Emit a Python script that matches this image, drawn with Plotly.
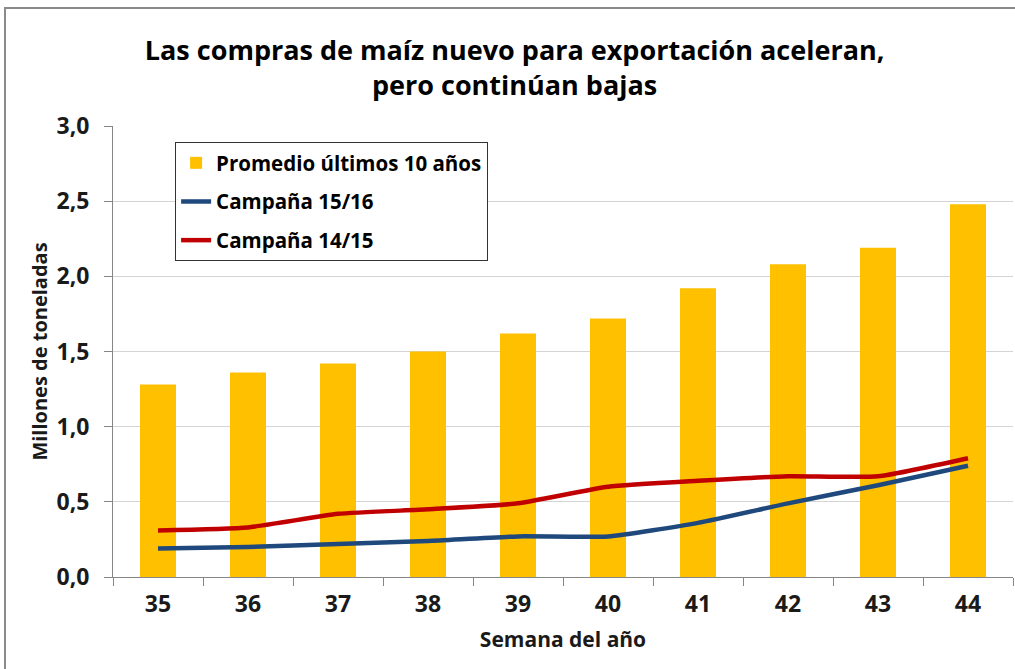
import plotly.graph_objects as go

weeks = ["35", "36", "37", "38", "39", "40", "41", "42", "43", "44"]
promedio = [1.28, 1.36, 1.42, 1.50, 1.62, 1.72, 1.92, 2.08, 2.19, 2.48]
camp_15_16 = [0.19, 0.20, 0.22, 0.24, 0.27, 0.27, 0.36, 0.49, 0.61, 0.74]
camp_14_15 = [0.31, 0.33, 0.42, 0.45, 0.49, 0.60, 0.64, 0.67, 0.67, 0.79]
y_ticks = [0, 0.5, 1.0, 1.5, 2.0, 2.5, 3.0]
y_labels = ["0,0", "0,5", "1,0", "1,5", "2,0", "2,5", "3,0"]

FONT = "Open Sans"
TXT = "#1a1a1a"
fig = go.Figure()
fig.add_trace(go.Bar(x=weeks, y=promedio, name="Promedio últimos 10 años", legendgroup="a",
                     marker=dict(color="#FFC000", line=dict(width=0))))
fig.add_trace(go.Scatter(x=weeks, y=camp_15_16, name="Campaña 15/16", mode="lines", legendgroup="b",
                         line=dict(color="#1F497D", width=4.5, shape="spline", smoothing=0.5)))
fig.add_trace(go.Scatter(x=weeks, y=camp_14_15, name="Campaña 14/15", mode="lines", legendgroup="c",
                         line=dict(color="#C00000", width=4.5, shape="spline", smoothing=0.5)))

fig.update_layout(
    width=1015, height=669,
    margin=dict(l=113, r=2, t=126, b=92, autoexpand=False),
    paper_bgcolor="white", plot_bgcolor="white",
    bargap=0.6,
    font=dict(family=FONT, color=TXT),
    title=dict(text="Las compras de maíz nuevo para exportación aceleran,<br>pero continúan bajas",
               x=0.507, xref="container", xanchor="center", y=0.91, yref="container", yanchor="middle",
               font=dict(family=FONT, size=27, weight="bold", color="#000")),
    legend=dict(x=0.069, y=0.9645, xanchor="left", yanchor="top",
                bgcolor="white", bordercolor="#333", borderwidth=1,
                font=dict(family=FONT, size=20.5, weight="bold", color="#000"),
                tracegroupgap=9, itemwidth=30),
    showlegend=True,
)
fig.update_xaxes(type="category", showline=True, linecolor="#868686", linewidth=1,
                 ticks="outside", tickson="boundaries", ticklen=8, tickcolor="#868686",
                 showgrid=False, automargin=False, ticklabelstandoff=6,
                 tickfont=dict(family=FONT, size=23, weight="bold", color=TXT),
                 title=dict(text="Semana del año", standoff=14,
                            font=dict(family=FONT, size=21, weight="bold", color=TXT)))
fig.update_yaxes(range=[0, 3.0], tickvals=y_ticks, ticktext=y_labels,
                 showline=True, linecolor="#868686", linewidth=1,
                 ticks="outside", ticklen=8, tickcolor="#868686",
                 showgrid=True, gridcolor="#D4D4D4", gridwidth=1, zeroline=False,
                 automargin=False, ticklabelstandoff=10,
                 tickfont=dict(family=FONT, size=23, weight="bold", color=TXT),
                 title=dict(text="Millones de toneladas", standoff=3,
                            font=dict(family=FONT, size=20, weight="bold", color=TXT)))

fig.add_shape(type="rect", xref="paper", yref="paper",
              x0=-0.1200, x1=1.2, y0=-0.5, y1=1.2616,
              line=dict(color="#8a8a8a", width=2), fillcolor="rgba(0,0,0,0)", layer="below")

fig.write_html("out.html", config={"displayModeBar": False},
               post_script="document.body.style.margin='0';document.body.style.overflow='hidden';")
